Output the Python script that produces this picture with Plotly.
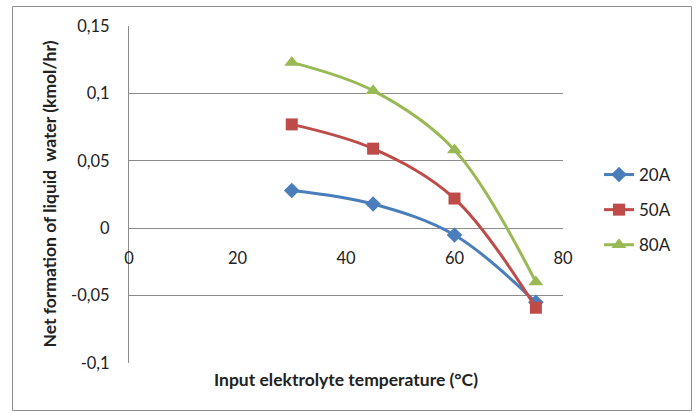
import plotly.graph_objects as go

temperature = [30, 45, 60, 75]
series_names = ["20A", "50A", "80A"]
values_20A = [0.028, 0.018, -0.005, -0.055]
values_50A = [0.077, 0.059, 0.022, -0.059]
values_80A = [0.123, 0.102, 0.058, -0.040]
y_tickvals = [-0.1, -0.05, 0, 0.05, 0.1, 0.15]
y_ticktext = ["-0,1", "-0,05", "0", "0,05", "0,1", "0,15"]
x_tickvals = [0, 20, 40, 60, 80]
x_ticktext = ["0", "20", "40", "60", "80"]

colors = ["#4A7EBB", "#BE4B48", "#98B954"]
symbols = ["diamond", "square", "triangle-up"]
msizes = [12, 12, 13]
all_values = [values_20A, values_50A, values_80A]

FONT = "Lato"
TXT = "#222222"
W, H = 696, 413
L, R, T, B = 129, 563, 26, 363

fig = go.Figure()
for i, (name, vals) in enumerate(zip(series_names, all_values)):
    fig.add_trace(go.Scatter(
        x=temperature, y=vals, name=name, mode="lines+markers",
        line=dict(color=colors[i], width=3, shape="spline", smoothing=1.0),
        marker=dict(symbol=symbols[i], size=msizes[i], color=colors[i]),
        legendgroup=name,
    ))

ymin, ymax = -0.1, 0.15
zero_pos = (0 - ymin) / (ymax - ymin)

def px_x(p):
    return (p - L) / (R - L)

def px_y(p):
    return (B - p) / (B - T)

fig.update_layout(
    width=W, height=H,
    margin=dict(l=L, r=W - R, t=T, b=H - B),
    paper_bgcolor="white", plot_bgcolor="white",
    font=dict(family=FONT, size=16, color=TXT),
    showlegend=True,
    legend=dict(x=px_x(599), y=px_y(157), xanchor="left", yanchor="top",
                font=dict(family=FONT, size=17, color=TXT),
                tracegroupgap=10, bgcolor="rgba(0,0,0,0)"),
    xaxis=dict(range=[0, 80], tickvals=x_tickvals, ticktext=x_ticktext,
               showgrid=False, zeroline=False, showline=False,
               anchor="free", position=zero_pos,
               ticks="outside", ticklen=15, tickcolor="rgba(0,0,0,0)",
               tickfont=dict(family=FONT, size=16.5, color=TXT)),
    yaxis=dict(range=[ymin, ymax], tickvals=y_tickvals, ticktext=y_ticktext,
               showgrid=True, gridcolor="#8C8C8C", gridwidth=1,
               zeroline=False, showline=True, linecolor="#8C8C8C", linewidth=1,
               ticks="", ticklabelstandoff=15,
               tickfont=dict(family=FONT, size=16.5, color=TXT)),
    shapes=[dict(type="rect", xref="paper", yref="paper",
                 x0=px_x(12.5), x1=px_x(691.5), y0=px_y(410.5), y1=px_y(6.5),
                 line=dict(color="#8C8C8C", width=1), layer="below")],
    annotations=[
        dict(text="<b>Input elektrolyte temperature (°C)</b>", xref="paper", yref="paper",
             x=px_x(346), y=px_y(379), xanchor="center", yanchor="middle",
             showarrow=False, font=dict(family=FONT, size=17.5, color=TXT)),
        dict(text="<b>Net formation of liquid  water (kmol/hr)</b>", xref="paper", yref="paper",
             x=px_x(48.5), y=px_y(194), xanchor="center", yanchor="middle", textangle=-90,
             showarrow=False, font=dict(family=FONT, size=17.5, color=TXT)),
    ],
)

fig.write_html("out.html")
